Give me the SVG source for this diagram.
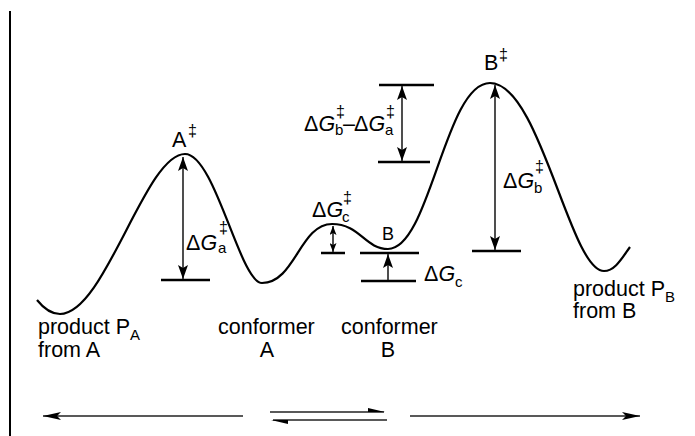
<svg xmlns="http://www.w3.org/2000/svg" width="695" height="436" viewBox="0 0 695 436">
<style>
  .t { font-family: "Liberation Sans", Arial, sans-serif; font-size: 21.5px; fill: #000; }
  .s { font-family: "Liberation Sans", Arial, sans-serif; font-size: 15px; fill: #000; }
  .d { font-family: "Liberation Sans", Arial, sans-serif; font-size: 16px; fill: #000; }
  .i { font-style: italic; }
  .lvl { stroke: #000; stroke-width: 2.5; fill: none; }
  .arr { stroke: #222; stroke-width: 1.6; fill: none; }
  .curve { stroke: #000; stroke-width: 2.2; fill: none; }
</style>
<defs>
  <marker id="ah" viewBox="0 0 14 10" refX="14" refY="5" markerWidth="14" markerHeight="10" markerUnits="userSpaceOnUse" orient="auto-start-reverse">
    <path d="M0,0 L14,5 L0,10 L3,5 z" fill="#000"/>
  </marker>
  <marker id="ahs" viewBox="0 0 9 7" refX="9" refY="3.5" markerWidth="9" markerHeight="7" markerUnits="userSpaceOnUse" orient="auto-start-reverse">
    <path d="M0,0 L9,3.5 L0,7 L2,3.5 z" fill="#000"/>
  </marker>
  <marker id="ahb" viewBox="0 0 18 8" refX="18" refY="4" markerWidth="18" markerHeight="8" markerUnits="userSpaceOnUse" orient="auto-start-reverse">
    <path d="M0,0 L18,4 L0,8 L4,4 z" fill="#000"/>
  </marker>
</defs>

<line x1="10" y1="11" x2="10" y2="436" stroke="#000" stroke-width="2"/>

<g id="profile">
  <path class="curve" d="M37,300 C45,310 52,314 60,314 C105,314 145,154 185,154 C215,154 240,283 262,283 C295,283 300,224 332,224 C360,224 365,249 388,249 C430,249 445,83 490,83 C540,83 570,271 604,271 C615,271 622,258 630,247"/>
</g>

<g id="levels">
  <line class="lvl" x1="161" y1="280" x2="210" y2="280"/>
  <line class="lvl" x1="321" y1="253" x2="345" y2="253"/>
  <line class="lvl" x1="360" y1="253" x2="419" y2="253"/>
  <line class="lvl" x1="361" y1="281" x2="416" y2="281"/>
  <line class="lvl" x1="379" y1="85" x2="434" y2="85"/>
  <line class="lvl" x1="378" y1="162" x2="430" y2="162"/>
  <line class="lvl" x1="472" y1="251" x2="521" y2="251"/>
</g>

<g id="connectors">
  <line class="arr" x1="183" y1="157" x2="183" y2="279" marker-start="url(#ah)" marker-end="url(#ah)"/>
  <line class="arr" x1="333" y1="226" x2="333" y2="252" marker-start="url(#ahs)" marker-end="url(#ahs)"/>
  <line class="arr" x1="388" y1="280" x2="388" y2="254" marker-end="url(#ah)"/>
  <line class="arr" x1="402" y1="86" x2="402" y2="161" marker-start="url(#ah)" marker-end="url(#ah)"/>
  <line class="arr" x1="495" y1="85" x2="495" y2="250" marker-start="url(#ah)" marker-end="url(#ah)"/>
  <line class="arr" x1="243" y1="416" x2="43" y2="416" marker-end="url(#ahb)"/>
  <line class="arr" x1="410" y1="416" x2="640" y2="416" marker-end="url(#ahb)"/>
  <line class="arr" x1="270" y1="412" x2="384" y2="412"/>
  <path d="M368,408 L385,412 L368,412 z" fill="#000"/>
  <line class="arr" x1="273" y1="420" x2="387" y2="420"/>
  <path d="M288,424 L271,420 L288,420 z" fill="#000"/>
</g>

<g id="label-Ats">
  <text class="t" x="172" y="147">A</text>
  <text class="d" x="188" y="136">‡</text>
</g>
<g id="label-Bts">
  <text class="t" x="484" y="70">B</text>
  <text class="d" x="499" y="60">‡</text>
</g>
<g id="label-B">
  <text class="t" x="382" y="240" style="font-size:18px">B</text>
</g>

<g id="label-dGa">
  <text class="t" x="186" y="250">Δ<tspan class="i">G</tspan></text>
  <text class="s" x="218" y="253">a</text>
  <text class="d" x="219" y="233">‡</text>
</g>
<g id="label-dGc-ts">
  <text class="t" x="312" y="217">Δ<tspan class="i">G</tspan></text>
  <text class="s" x="342" y="222">c</text>
  <text class="d" x="343" y="203">‡</text>
</g>
<g id="label-dGc">
  <text class="t" x="424" y="281">Δ<tspan class="i">G</tspan></text>
  <text class="s" x="455" y="287">c</text>
</g>
<g id="label-dGb-dGa">
  <text class="t" x="304" y="131">Δ<tspan class="i">G</tspan></text>
  <text class="s" x="335" y="135">b</text>
  <text class="d" x="336" y="117">‡</text>
  <text class="t" x="343" y="131">–</text>
  <text class="t" x="354" y="131">Δ<tspan class="i">G</tspan></text>
  <text class="s" x="385" y="135">a</text>
  <text class="d" x="386" y="117">‡</text>
</g>
<g id="label-dGb">
  <text class="t" x="503" y="188">Δ<tspan class="i">G</tspan></text>
  <text class="s" x="534" y="193">b</text>
  <text class="d" x="535" y="172">‡</text>
</g>

<g id="label-PA">
  <text class="t" x="38" y="334">product P<tspan class="s" dy="6">A</tspan></text>
  <text class="t" x="38" y="357">from A</text>
</g>
<g id="label-confA">
  <text class="t" x="218" y="334">conformer</text>
  <text class="t" x="267" y="357" text-anchor="middle">A</text>
</g>
<g id="label-confB">
  <text class="t" x="341" y="334">conformer</text>
  <text class="t" x="388" y="357" text-anchor="middle">B</text>
</g>
<g id="label-PB">
  <text class="t" x="573" y="296">product P<tspan class="s" dy="6">B</tspan></text>
  <text class="t" x="573" y="318">from B</text>
</g>
</svg>
